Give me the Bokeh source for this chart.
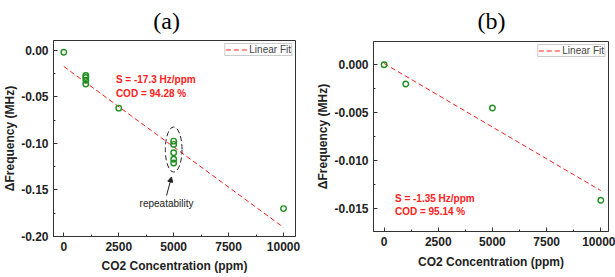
from bokeh.plotting import figure
from bokeh.layouts import row, column
from bokeh.models import Range1d, Label, Arrow, NormalHead, FixedTicker
from bokeh.embed import file_html
from bokeh.resources import INLINE

# Panel (a) data
a_x = [0, 1000, 1000, 1000, 1000, 2500, 5000, 5000, 5000, 5000, 5000, 10000]
a_y = [-0.002, -0.027, -0.029, -0.032, -0.036, -0.062, -0.0975, -0.101, -0.110, -0.117, -0.121, -0.170]
a_fit_x = [0, 10000]
a_fit_y = [-0.0172, -0.1902]
a_xticks = [0, 2500, 5000, 7500, 10000]
a_yticks = [0.0, -0.05, -0.10, -0.15, -0.20]
a_ytick_labels = ["0.00", "-0.05", "-0.10", "-0.15", "-0.20"]

# Panel (b) data
b_x = [0, 1000, 5000, 10000]
b_y = [0.0, -0.0020, -0.0045, -0.0141]
b_fit_x = [0, 10000]
b_fit_y = [0.00013, -0.0131]
b_xticks = [0, 2500, 5000, 7500, 10000]
b_yticks = [0.0, -0.005, -0.010, -0.015]
b_ytick_labels = ["0.000", "-0.005", "-0.010", "-0.015"]

X_TITLE = "CO2 Concentration (ppm)"
Y_TITLE = "\u0394Frequency (MHz)"

GREEN = "#1f8f1f"
RED = "#ff2020"
INK = "#222222"
FONT = "Liberation Sans"


def style(p, xticks, yticks, ylabels, xlabel_standoff):
    p.xaxis.ticker = FixedTicker(ticks=xticks, minor_ticks=[x + 1250 for x in [-2500] + xticks])
    minor_y = [(yticks[i] + yticks[i + 1]) / 2 for i in range(len(yticks) - 1)]
    p.yaxis.ticker = FixedTicker(ticks=yticks, minor_ticks=minor_y)
    p.yaxis.major_label_overrides = {t: l for t, l in zip(yticks, ylabels)}
    p.xaxis.axis_label = X_TITLE
    p.yaxis.axis_label = Y_TITLE
    for ax in (p.xaxis, p.yaxis):
        ax.axis_label_text_font = FONT
        ax.axis_label_text_font_style = "bold"
        ax.axis_label_text_font_size = "12px"
        ax.axis_label_text_color = INK
        ax.major_label_text_font = FONT
        ax.major_label_text_font_style = "bold"
        ax.major_label_text_font_size = "12px"
        ax.major_label_text_color = INK
        ax.major_tick_in = 4
        ax.major_tick_out = 0
        ax.minor_tick_in = 2
        ax.minor_tick_out = 0
        ax.axis_line_color = "#333333"
        ax.major_tick_line_color = "#333333"
        ax.minor_tick_line_color = "#333333"
        ax.major_label_standoff = 5
    p.xaxis.axis_label_standoff = xlabel_standoff
    p.yaxis.axis_label_standoff = 1
    p.xaxis.formatter.use_scientific = False
    p.grid.visible = False
    p.outline_line_color = "#333333"
    p.outline_line_width = 1
    p.legend.location = "top_right"
    p.legend.label_text_font = FONT
    p.legend.label_text_font_size = "10px"
    p.legend.border_line_color = "#999999"
    p.legend.padding = 0
    p.legend.margin = 3
    p.legend.glyph_width = 23
    p.legend.glyph_height = 11
    p.legend.label_height = 11
    p.legend.spacing = 0
    p.legend.label_standoff = 1


def lbl(p, x, y, text, size="10px", bold=True, color=INK, align="center", baseline="middle",
        font=FONT):
    p.add_layout(Label(x=x, y=y, text=text, text_font=font, text_font_size=size,
                       text_font_style="bold" if bold else "normal", text_color=color,
                       text_align=align, text_baseline=baseline))


def title_strip(width, height, text, cx):
    t = figure(width=width, height=height, output_backend="svg", toolbar_location=None,
               x_range=Range1d(0, width), y_range=Range1d(0, height),
               x_axis_type=None, y_axis_type=None, min_border=0)
    t.grid.visible = False
    t.outline_line_color = None
    lbl(t, cx, height - 20, text, size="24px", bold=False, color="black",
        font="Liberation Serif")
    return t


# ---------- Panel (a)
ta = title_strip(308, 39, "(a)", 144)
pa = figure(width=308, height=238, output_backend="svg", toolbar_location=None,
            x_range=Range1d(-470, 10545), y_range=Range1d(-0.2, 0.0107),
            min_border_left=52, min_border_right=13,
            min_border_top=1, min_border_bottom=41)
pa.line(a_fit_x, a_fit_y, line_color=RED, line_dash="5 3", line_width=1,
        legend_label="Linear Fit")
pa.scatter(a_x, a_y, marker="circle", size=5.5, fill_color=None,
           line_color=GREEN, line_width=1.4)
pa.ellipse(x=[5000], y=[-0.1065], width=760, height=0.0484, fill_color=None,
           line_color=INK, line_dash="5 3", line_width=1)
pa.add_layout(Arrow(end=NormalHead(size=5, fill_color=INK, line_color=INK),
                    x_start=4675, y_start=-0.156, x_end=4900, y_end=-0.136,
                    line_color=INK, line_width=1))
lbl(pa, 4675, -0.164, "repeatability", bold=False)
lbl(pa, 2370, -0.0309, "S = -17.3 Hz/ppm", color=RED, align="left")
lbl(pa, 2370, -0.0459, "COD = 94.28 %", color=RED, align="left")
style(pa, a_xticks, a_yticks, a_ytick_labels, 5)

# ---------- Panel (b)
tb = title_strip(307, 40, "(b)", 154)
pb = figure(width=307, height=237, output_backend="svg", toolbar_location=None,
            x_range=Range1d(-489, 10355), y_range=Range1d(-0.01736, 0.00242),
            min_border_left=65, min_border_right=7,
            min_border_top=1, min_border_bottom=46)
pb.line(b_fit_x, b_fit_y, line_color=RED, line_dash="5 3", line_width=1,
        legend_label="Linear Fit")
pb.scatter(b_x, b_y, marker="circle", size=5.5, fill_color=None,
           line_color=GREEN, line_width=1.4)
lbl(pb, 500, -0.01396, "S = -1.35 Hz/ppm", color=RED, align="left")
lbl(pb, 500, -0.01528, "COD = 95.14 %", color=RED, align="left")
style(pb, b_xticks, b_yticks, b_ytick_labels, 6)

layout = row(column(ta, pa, spacing=0), column(tb, pb, spacing=0), spacing=0)
open("out.html", "w").write(file_html(layout, INLINE))
